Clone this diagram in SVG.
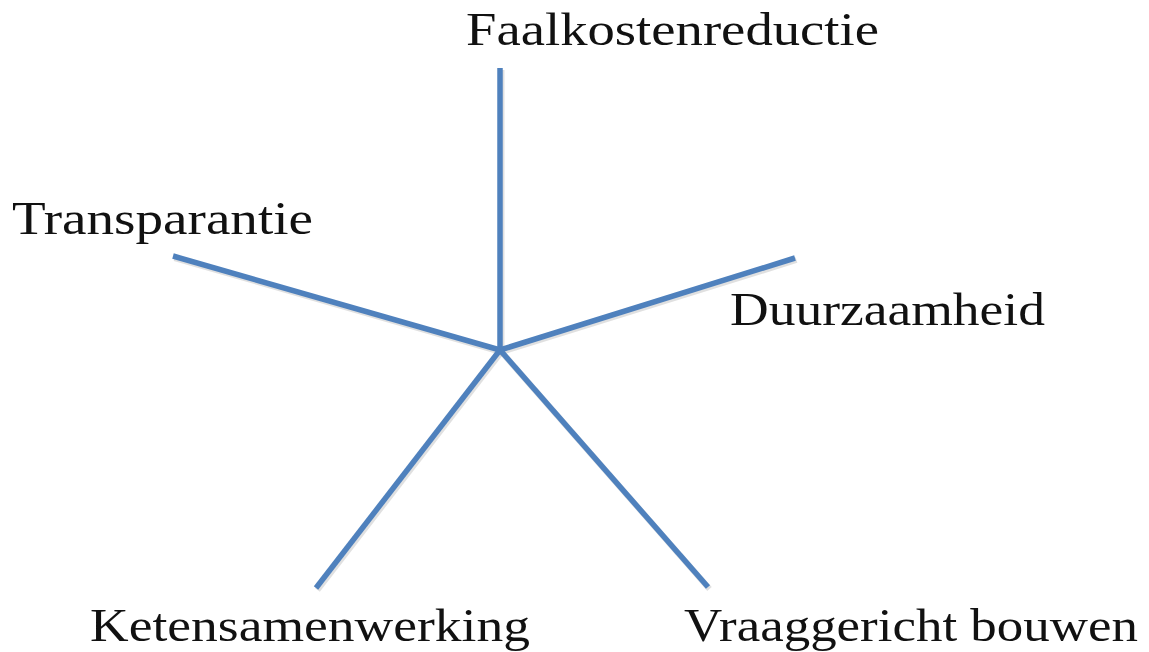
<svg xmlns="http://www.w3.org/2000/svg" width="1149" height="652" viewBox="0 0 1149 652">
<defs>
<style>
.lbl{font-family:"Liberation Serif","DejaVu Serif",serif;font-size:47px;fill:#111}
.spoke{stroke:#4F81BD;stroke-width:5.5;stroke-linecap:butt;fill:none}
.shadow{stroke:#000;stroke-opacity:0.12;stroke-width:6;fill:none}
</style>
</defs>
<rect width="1149" height="652" fill="#fff"/>
<g id="connectors">
<g transform="translate(1.5,2)">
<line class="shadow" x1="500" y1="350" x2="500" y2="68"/>
<line class="shadow" x1="500" y1="350" x2="173" y2="256"/>
<line class="shadow" x1="500" y1="350" x2="795" y2="258"/>
<line class="shadow" x1="500" y1="350" x2="316" y2="588"/>
<line class="shadow" x1="500" y1="350" x2="708" y2="587"/>
</g>
<line class="spoke" x1="500" y1="350" x2="500" y2="68"/>
<line class="spoke" x1="500" y1="350" x2="173" y2="256"/>
<line class="spoke" x1="500" y1="350" x2="795" y2="258"/>
<line class="spoke" x1="500" y1="350" x2="316" y2="588"/>
<line class="spoke" x1="500" y1="350" x2="708" y2="587"/>
</g>
<g id="node-faalkostenreductie"><text class="lbl" x="466" y="45" textLength="413" lengthAdjust="spacingAndGlyphs">Faalkostenreductie</text></g>
<g id="node-transparantie"><text class="lbl" x="12" y="234" textLength="301" lengthAdjust="spacingAndGlyphs">Transparantie</text></g>
<g id="node-duurzaamheid"><text class="lbl" x="730" y="325" textLength="315" lengthAdjust="spacingAndGlyphs">Duurzaamheid</text></g>
<g id="node-ketensamenwerking"><text class="lbl" x="90" y="641" textLength="440" lengthAdjust="spacingAndGlyphs">Ketensamenwerking</text></g>
<g id="node-vraaggericht"><text class="lbl" x="684" y="641" textLength="454" lengthAdjust="spacingAndGlyphs">Vraaggericht bouwen</text></g>
</svg>
